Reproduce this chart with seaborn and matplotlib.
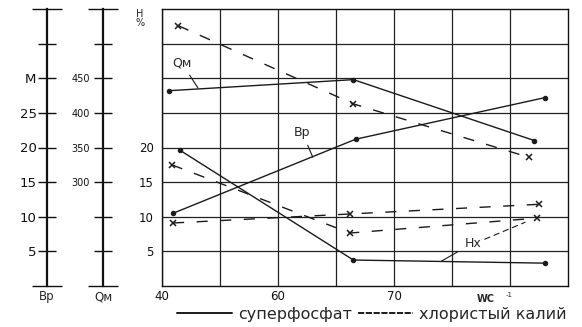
import numpy as np
import matplotlib.pyplot as plt
import seaborn as sns
from matplotlib.lines import Line2D

# ---------------------------
# Data
# x is in the printed axis units (40 / 60 / 70), the printed axis is not linear
# Qm values are in the Qm scale, Bp and H share the left H % scale
# ---------------------------
x_qm_sp = [41.2, 66.5, 82.1]
qm_sp = [432, 448, 360]
x_bp_sp = [41.9, 66.7, 83.0]
bp_sp = [10.5, 21.2, 27.2]
x_h_sp = [43.1, 66.5, 83.0]
h_sp = [19.6, 3.75, 3.3]

x_qm_kcl = [42.8, 66.5, 81.6]
qm_kcl = [526, 413, 336]
x_h_kcl = [41.7, 66.2, 82.3]
h_kcl = [17.5, 7.65, 9.8]
x_bp_kcl = [41.9, 66.2, 82.5]
bp_kcl = [9.1, 10.4, 11.8]

x_ticks = [40, 60, 70]
x_grid = [50, 65, 75, 80]
h_ticks = [5, 10, 15, 20]
h_grid = [25, 30, 35]
bp_ticks = [5, 10, 15, 20, 25, 30, 35]
bp_labels = ['5', '10', '15', '20', '25', 'М', '']
qm_ticks = [200, 250, 300, 350, 400, 450, 500]
qm_labels = ['', '', '300', '350', '400', '450', '']
legend_labels = ['суперфосфат', 'хлористый калий']

# piecewise axis as printed: 40..60 over two cells, 60..70 over two cells, then 5 per cell
x_knots = [0, 40, 60, 70, 100]
cell_knots = [-4, 0, 2, 4, 10]


def fwd(x):
    return np.interp(x, x_knots, cell_knots)


def inv(c):
    return np.interp(c, cell_knots, x_knots)


sns.set_theme(style='white')
plt.rcParams['font.family'] = ['DejaVu Sans']

W, H = 582, 327
fig = plt.figure(figsize=(W / 100, H / 100), dpi=100)

# ---------------------------
# Main plot
# ---------------------------
left, right, top, bottom = 162, 568, 9, 286
ax = fig.add_axes([left / W, 1 - bottom / H, (right - left) / W, (bottom - top) / H])
ax.set_xscale('function', functions=(fwd, inv))
ax.set_xlim(40, 85)
ax.set_ylim(0, 40)
ax.set_xticks(x_ticks)
ax.set_xticks(x_grid, minor=True)
ax.set_yticks(h_ticks)
ax.set_yticks(h_grid, minor=True)
ax.tick_params(which='both', length=0, labelsize=8.5, colors='#111')
ax.tick_params(axis='x', pad=3)
ax.tick_params(axis='y', pad=6)
ax.grid(True, which='both', color='#222', lw=0.9)
for s in ax.spines.values():
    s.set_color('#111')
    s.set_linewidth(1.0)

ax_q = ax.twinx()
ax_q.set_ylim(150, 550)
ax_q.set_yticks([])
for s in ax_q.spines.values():
    s.set_visible(False)

solid = dict(color='k', lw=1.0, marker='o', ms=3.2, mec='k', mfc='k')
dashed = dict(color='k', lw=1.0, ls=(0, (8, 9)), marker='x', ms=5, mew=1.1, mec='k')

sns.lineplot(x=x_qm_sp, y=qm_sp, ax=ax_q, **solid)
sns.lineplot(x=x_bp_sp, y=bp_sp, ax=ax, **solid)
sns.lineplot(x=x_h_sp, y=h_sp, ax=ax, **solid)
sns.lineplot(x=x_qm_kcl, y=qm_kcl, ax=ax_q, **dashed)
sns.lineplot(x=x_h_kcl, y=h_kcl, ax=ax, **dashed)
sns.lineplot(x=x_bp_kcl, y=bp_kcl, ax=ax, **dashed)

# curve labels with pointer lines
ax_q.annotate('Qм', xy=(46.2, 436), xytext=(43.4, 472), ha='center', va='center', fontsize=9,
              arrowprops=dict(arrowstyle='-', lw=0.8, color='k', shrinkA=2, shrinkB=0))
ax.annotate('Вр', xy=(63.0, 18.6), xytext=(62.1, 22.1), ha='center', va='center', fontsize=9,
            arrowprops=dict(arrowstyle='-', lw=0.8, color='k', shrinkA=2, shrinkB=0))
ax.annotate('Нх', xy=(74.1, 3.6), xytext=(76.8, 6.2), ha='center', va='center', fontsize=9,
            arrowprops=dict(arrowstyle='-', lw=0.8, color='k', shrinkA=3, shrinkB=0))
ax.annotate('', xy=(81.3, 9.2), xytext=(77.6, 6.6),
            arrowprops=dict(arrowstyle='-', lw=0.8, color='k', ls=(0, (5, 4)), shrinkA=2, shrinkB=0))

ax.text(-0.055, 1.0, 'Н\n%', transform=ax.transAxes, ha='center', va='top', fontsize=7,
        linespacing=0.9)

# x axis title
fig.text(486 / W, 1 - 299 / H, 'WC', ha='center', va='center', fontsize=7, weight='bold')
fig.text(509 / W, 1 - 295 / H, '-1', ha='center', va='center', fontsize=5)

# ---------------------------
# Left nomogram scales Bp and Qm
# ---------------------------
def side_scale(xpix, lim, ticks, labels, name, fs, pad):
    a = fig.add_axes([xpix / W, 1 - bottom / H, 0.0005, (bottom - top) / H])
    a.set_ylim(*lim)
    a.set_xticks([])
    for k, s in a.spines.items():
        s.set_visible(k == 'left')
    a.spines['left'].set_linewidth(1.6)
    a.spines['left'].set_color('#111')
    a.set_yticks(ticks)
    a.set_yticklabels(labels)
    a.set_yticks(list(lim), minor=True)
    a.tick_params(axis='y', which='major', left=True, direction='inout', length=13, width=1.0,
                  labelsize=fs, pad=pad, colors='#111')
    a.tick_params(axis='y', which='minor', left=True, direction='inout', length=22, width=1.0,
                  colors='#111')
    a.set_xlabel(name, fontsize=8.5, labelpad=3)
    a.set_facecolor('none')
    return a


side_scale(47, (0, 40), bp_ticks, bp_labels, 'Вр', 9.5, 1)
side_scale(103, (150, 550), qm_ticks, qm_labels, 'Qм', 7, 3)

# ---------------------------
# Legend
# ---------------------------
handles = [Line2D([], [], color='k', lw=1.4),
           Line2D([], [], color='k', lw=1.4, ls=(0, (3.2, 0.8)))]
fig.legend(handles, legend_labels, ncol=2, loc='center', bbox_to_anchor=(372 / W, 1 - 314 / H),
           frameon=False, fontsize=11.5, handlelength=3.4, handletextpad=0.4, columnspacing=0.4,
           borderpad=0, borderaxespad=0)

fig.savefig('out.png', dpi=100)
